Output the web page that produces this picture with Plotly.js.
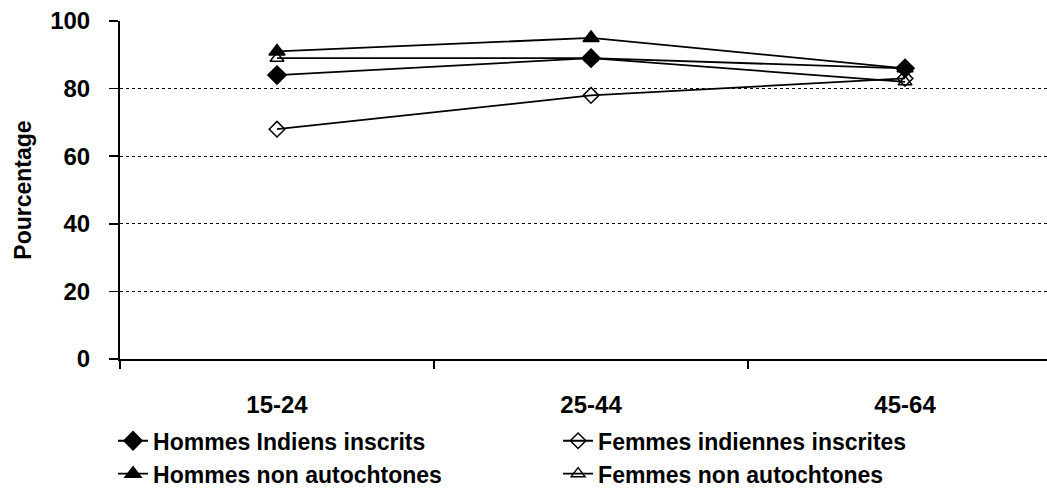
<!DOCTYPE html>
<html>
<head>
<meta charset="utf-8">
<script src="https://cdn.plot.ly/plotly-3.0.1.min.js"></script>
<style>
html,body{margin:0;padding:0;background:#fff;}
#chart{width:1047px;height:491px;}
</style>
</head>
<body>
<div id="chart"></div>
<script>
var categories = ["15-24", "25-44", "45-64"];
var hommesIndiens = [84, 89, 86];
var femmesIndiennes = [68, 78, 83];
var hommesNonAuto = [91, 95, 86];
var femmesNonAuto = [89, 89, 82];
var seriesNames = ["Hommes Indiens inscrits", "Femmes indiennes inscrites", "Hommes non autochtones", "Femmes non autochtones"];

var FONT = "Liberation Sans, Arial, sans-serif";
function tr(y, name, symbol, size) {
  return {
    x: categories, y: y, name: name, type: "scatter", mode: "lines+markers",
    line: {color: "#000", width: 1.8},
    marker: {symbol: symbol, size: size, color: "#000", line: {color: "#000", width: 1.5}}
  };
}
var data = [
  tr(hommesIndiens, seriesNames[0], "diamond", 14),
  tr(femmesIndiennes, seriesNames[1], "diamond-open", 12),
  tr(hommesNonAuto, seriesNames[2], "triangle-up", 14),
  tr(femmesNonAuto, seriesNames[3], "triangle-up-open", 12)
];
var layout = {
  width: 1047, height: 491,
  margin: {l: 120, r: 0, t: 21, b: 132, autoexpand: false},
  paper_bgcolor: "#fff", plot_bgcolor: "#fff",
  font: {family: FONT, color: "#000"},
  showlegend: true,
  xaxis: {
    type: "category", range: [-0.5, 2.452], tickson: "boundaries",
    ticks: "outside", ticklen: 8, tickwidth: 1.5, tickcolor: "#000",
    showline: true, linecolor: "#000", linewidth: 2,
    showgrid: false, zeroline: false, ticklabelstandoff: 23,
    tickfont: {family: FONT, size: 24, color: "#000", weight: "bold"}
  },
  yaxis: {
    range: [0, 100], dtick: 20, ticks: "outside", ticklen: 9, tickwidth: 1.5, tickcolor: "#000",
    showline: true, linecolor: "#000", linewidth: 2, ticklabelstandoff: 14,
    showgrid: true, gridcolor: "#000", gridwidth: 1, griddash: "dot", zeroline: false,
    tickfont: {family: FONT, size: 24, color: "#000", weight: "bold"},
    title: {text: "Pourcentage", standoff: 12, font: {family: FONT, size: 23, color: "#000", weight: "bold"}}
  },
  legend: {
    orientation: "h", xref: "container", x: 0.108, xanchor: "left",
    yref: "container", y: 0.146, yanchor: "top",
    entrywidth: 400, entrywidthmode: "pixels", tracegroupgap: 0,
    font: {family: FONT, size: 23, color: "#000", weight: "bold"},
    itemwidth: 30
  }
};
Plotly.newPlot("chart", data, layout, {displayModeBar: false, staticPlot: true});
</script>
</body>
</html>
